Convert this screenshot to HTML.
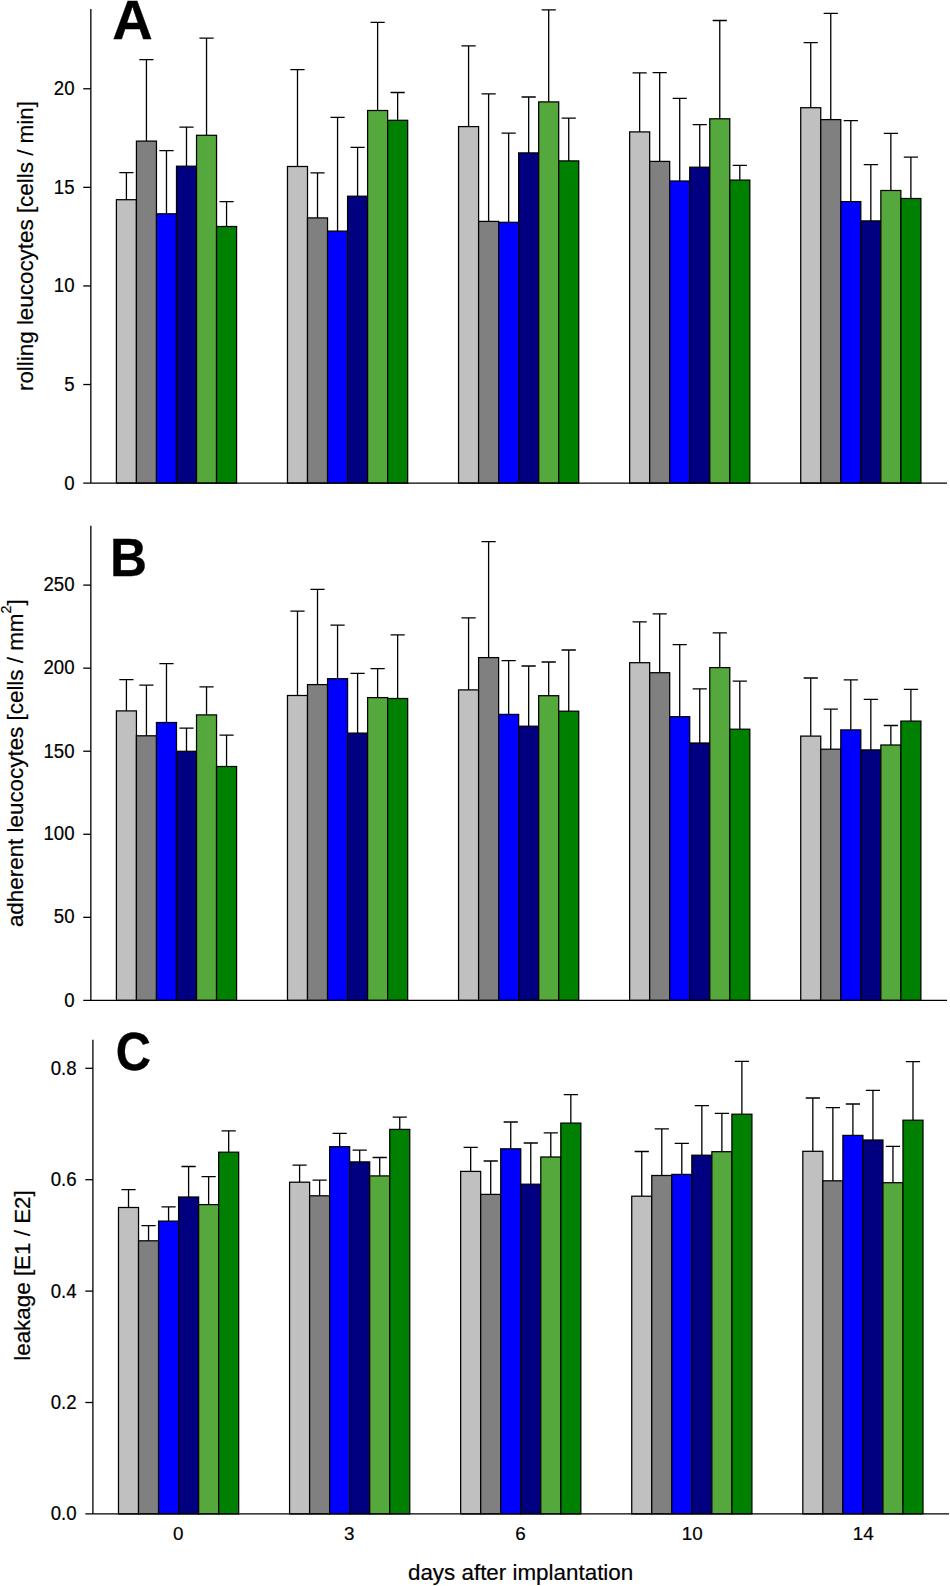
<!DOCTYPE html>
<html lang="en">
<head>
<meta charset="utf-8">
<title>Leucocyte rolling, adherence and leakage after implantation</title>
<style>
html,body{margin:0;padding:0;background:#fff;}
body{width:950px;height:1586px;overflow:hidden;}
svg{display:block;font-family:"Liberation Sans",sans-serif;}
.b{stroke:#000;stroke-width:1.25;}
.e{stroke:#000;stroke-width:1.3;fill:none;}
.a{stroke:#000;stroke-width:1.3;fill:none;}
.t{font-size:19.3px;fill:#000;stroke:#000;stroke-width:0.2;}
.x{font-size:19.1px;}
.y{font-size:22.4px;fill:#000;stroke:#000;stroke-width:0.2;}
.L{font-weight:bold;fill:#000;stroke:#000;stroke-width:0.3;stroke-linejoin:miter;}
</style>
</head>
<body>
<svg width="950" height="1586" viewBox="0 0 950 1586">
<rect width="950" height="1586" fill="#fff"/>
<g id="panel-a">
<path d="M126.42 199.70V172.70M119.32 172.70H133.52" class="e"/>
<path d="M146.44 141.10V59.70M139.34 59.70H153.54" class="e"/>
<path d="M166.48 213.80V150.60M159.38 150.60H173.58" class="e"/>
<path d="M186.50 166.20V127.10M179.41 127.10H193.60" class="e"/>
<path d="M206.54 135.30V38.20M199.44 38.20H213.64" class="e"/>
<path d="M226.56 226.50V201.60M219.47 201.60H233.66" class="e"/>
<path d="M297.50 166.50V69.60M290.39 69.60H304.60" class="e"/>
<path d="M317.52 217.90V172.90M310.42 172.90H324.62" class="e"/>
<path d="M337.56 231.10V117.40M330.45 117.40H344.66" class="e"/>
<path d="M357.59 196.20V147.40M350.49 147.40H364.69" class="e"/>
<path d="M377.62 110.50V22.30M370.51 22.30H384.72" class="e"/>
<path d="M397.64 120.30V92.50M390.54 92.50H404.75" class="e"/>
<path d="M468.58 126.60V45.90M461.48 45.90H475.68" class="e"/>
<path d="M488.61 221.40V93.80M481.50 93.80H495.71" class="e"/>
<path d="M508.64 222.30V133.10M501.54 133.10H515.74" class="e"/>
<path d="M528.67 152.90V97.00M521.57 97.00H535.77" class="e"/>
<path d="M548.70 101.90V9.90M541.60 9.90H555.80" class="e"/>
<path d="M568.73 160.90V118.10M561.62 118.10H575.83" class="e"/>
<path d="M639.65 131.90V72.80M632.55 72.80H646.75" class="e"/>
<path d="M659.68 161.40V72.60M652.58 72.60H666.78" class="e"/>
<path d="M679.72 181.00V98.40M672.62 98.40H686.82" class="e"/>
<path d="M699.75 167.20V124.70M692.64 124.70H706.85" class="e"/>
<path d="M719.77 118.80V20.50M712.67 20.50H726.88" class="e"/>
<path d="M739.80 180.10V165.30M732.70 165.30H746.90" class="e"/>
<path d="M810.74 107.70V42.70M803.63 42.70H817.84" class="e"/>
<path d="M830.76 119.60V13.30M823.66 13.30H837.87" class="e"/>
<path d="M850.79 201.60V120.60M843.69 120.60H857.89" class="e"/>
<path d="M870.83 220.90V164.70M863.73 164.70H877.93" class="e"/>
<path d="M890.86 190.50V133.30M883.75 133.30H897.96" class="e"/>
<path d="M910.88 198.50V157.20M903.78 157.20H917.99" class="e"/>
<rect x="116.40" y="199.70" width="20.03" height="283.40" fill="#c0c0c0" class="b"/>
<rect x="136.43" y="141.10" width="20.03" height="342.00" fill="#808080" class="b"/>
<rect x="156.46" y="213.80" width="20.03" height="269.30" fill="#0000ff" class="b"/>
<rect x="176.49" y="166.20" width="20.03" height="316.90" fill="#000080" class="b"/>
<rect x="196.52" y="135.30" width="20.03" height="347.80" fill="#55a83b" class="b"/>
<rect x="216.55" y="226.50" width="20.03" height="256.60" fill="#008000" class="b"/>
<rect x="287.48" y="166.50" width="20.03" height="316.60" fill="#c0c0c0" class="b"/>
<rect x="307.51" y="217.90" width="20.03" height="265.20" fill="#808080" class="b"/>
<rect x="327.54" y="231.10" width="20.03" height="252.00" fill="#0000ff" class="b"/>
<rect x="347.57" y="196.20" width="20.03" height="286.90" fill="#000080" class="b"/>
<rect x="367.60" y="110.50" width="20.03" height="372.60" fill="#55a83b" class="b"/>
<rect x="387.63" y="120.30" width="20.03" height="362.80" fill="#008000" class="b"/>
<rect x="458.56" y="126.60" width="20.03" height="356.50" fill="#c0c0c0" class="b"/>
<rect x="478.59" y="221.40" width="20.03" height="261.70" fill="#808080" class="b"/>
<rect x="498.62" y="222.30" width="20.03" height="260.80" fill="#0000ff" class="b"/>
<rect x="518.65" y="152.90" width="20.03" height="330.20" fill="#000080" class="b"/>
<rect x="538.68" y="101.90" width="20.03" height="381.20" fill="#55a83b" class="b"/>
<rect x="558.71" y="160.90" width="20.03" height="322.20" fill="#008000" class="b"/>
<rect x="629.64" y="131.90" width="20.03" height="351.20" fill="#c0c0c0" class="b"/>
<rect x="649.67" y="161.40" width="20.03" height="321.70" fill="#808080" class="b"/>
<rect x="669.70" y="181.00" width="20.03" height="302.10" fill="#0000ff" class="b"/>
<rect x="689.73" y="167.20" width="20.03" height="315.90" fill="#000080" class="b"/>
<rect x="709.76" y="118.80" width="20.03" height="364.30" fill="#55a83b" class="b"/>
<rect x="729.79" y="180.10" width="20.03" height="303.00" fill="#008000" class="b"/>
<rect x="800.72" y="107.70" width="20.03" height="375.40" fill="#c0c0c0" class="b"/>
<rect x="820.75" y="119.60" width="20.03" height="363.50" fill="#808080" class="b"/>
<rect x="840.78" y="201.60" width="20.03" height="281.50" fill="#0000ff" class="b"/>
<rect x="860.81" y="220.90" width="20.03" height="262.20" fill="#000080" class="b"/>
<rect x="880.84" y="190.50" width="20.03" height="292.60" fill="#55a83b" class="b"/>
<rect x="900.87" y="198.50" width="20.03" height="284.60" fill="#008000" class="b"/>
<path d="M90.85 9.10V483.10M83.25 483.10H947" class="a"/>
<text transform="translate(74.55 490.05) scale(0.965 1)" class="t" text-anchor="end">0</text>
<path d="M83.25 384.52H90.85" class="a"/>
<text transform="translate(74.55 390.62) scale(0.965 1)" class="t" text-anchor="end">5</text>
<path d="M83.25 285.94H90.85" class="a"/>
<text transform="translate(74.55 292.04) scale(0.965 1)" class="t" text-anchor="end">10</text>
<path d="M83.25 187.36H90.85" class="a"/>
<text transform="translate(74.55 193.96) scale(0.965 1)" class="t" text-anchor="end">15</text>
<path d="M83.25 88.78H90.85" class="a"/>
<text transform="translate(74.55 94.88) scale(0.965 1)" class="t" text-anchor="end">20</text>
<text transform="translate(112.3 39.2) scale(1.015 1)" font-size="55.2" class="L">A</text>
<text transform="translate(33.0 246.1) rotate(-90)" class="y" text-anchor="middle">rolling leucocytes [cells / min]</text>
</g>
<g id="panel-b">
<path d="M126.42 710.90V679.60M119.32 679.60H133.52" class="e"/>
<path d="M146.44 735.80V685.10M139.34 685.10H153.54" class="e"/>
<path d="M166.48 722.50V663.60M159.38 663.60H173.58" class="e"/>
<path d="M186.50 751.30V728.20M179.41 728.20H193.60" class="e"/>
<path d="M206.54 714.90V686.90M199.44 686.90H213.64" class="e"/>
<path d="M226.56 766.50V735.10M219.47 735.10H233.66" class="e"/>
<path d="M297.50 695.50V611.10M290.39 611.10H304.60" class="e"/>
<path d="M317.52 684.60V589.40M310.42 589.40H324.62" class="e"/>
<path d="M337.56 678.70V625.10M330.45 625.10H344.66" class="e"/>
<path d="M357.59 733.10V673.30M350.49 673.30H364.69" class="e"/>
<path d="M377.62 697.60V668.70M370.51 668.70H384.72" class="e"/>
<path d="M397.64 698.50V634.80M390.54 634.80H404.75" class="e"/>
<path d="M468.58 689.90V617.80M461.48 617.80H475.68" class="e"/>
<path d="M488.61 657.60V541.60M481.50 541.60H495.71" class="e"/>
<path d="M508.64 714.40V660.70M501.54 660.70H515.74" class="e"/>
<path d="M528.67 726.20V666.00M521.57 666.00H535.77" class="e"/>
<path d="M548.70 695.70V662.00M541.60 662.00H555.80" class="e"/>
<path d="M568.73 711.20V650.00M561.62 650.00H575.83" class="e"/>
<path d="M639.65 662.70V621.90M632.55 621.90H646.75" class="e"/>
<path d="M659.68 672.70V613.80M652.58 613.80H666.78" class="e"/>
<path d="M679.72 716.70V644.70M672.62 644.70H686.82" class="e"/>
<path d="M699.75 743.00V688.80M692.64 688.80H706.85" class="e"/>
<path d="M719.77 667.60V632.80M712.67 632.80H726.88" class="e"/>
<path d="M739.80 729.20V681.20M732.70 681.20H746.90" class="e"/>
<path d="M810.74 736.10V678.00M803.63 678.00H817.84" class="e"/>
<path d="M830.76 749.20V709.10M823.66 709.10H837.87" class="e"/>
<path d="M850.79 729.90V679.80M843.69 679.80H857.89" class="e"/>
<path d="M870.83 749.90V699.40M863.73 699.40H877.93" class="e"/>
<path d="M890.86 745.00V725.50M883.75 725.50H897.96" class="e"/>
<path d="M910.88 721.10V689.30M903.78 689.30H917.99" class="e"/>
<rect x="116.40" y="710.90" width="20.03" height="289.50" fill="#c0c0c0" class="b"/>
<rect x="136.43" y="735.80" width="20.03" height="264.60" fill="#808080" class="b"/>
<rect x="156.46" y="722.50" width="20.03" height="277.90" fill="#0000ff" class="b"/>
<rect x="176.49" y="751.30" width="20.03" height="249.10" fill="#000080" class="b"/>
<rect x="196.52" y="714.90" width="20.03" height="285.50" fill="#55a83b" class="b"/>
<rect x="216.55" y="766.50" width="20.03" height="233.90" fill="#008000" class="b"/>
<rect x="287.48" y="695.50" width="20.03" height="304.90" fill="#c0c0c0" class="b"/>
<rect x="307.51" y="684.60" width="20.03" height="315.80" fill="#808080" class="b"/>
<rect x="327.54" y="678.70" width="20.03" height="321.70" fill="#0000ff" class="b"/>
<rect x="347.57" y="733.10" width="20.03" height="267.30" fill="#000080" class="b"/>
<rect x="367.60" y="697.60" width="20.03" height="302.80" fill="#55a83b" class="b"/>
<rect x="387.63" y="698.50" width="20.03" height="301.90" fill="#008000" class="b"/>
<rect x="458.56" y="689.90" width="20.03" height="310.50" fill="#c0c0c0" class="b"/>
<rect x="478.59" y="657.60" width="20.03" height="342.80" fill="#808080" class="b"/>
<rect x="498.62" y="714.40" width="20.03" height="286.00" fill="#0000ff" class="b"/>
<rect x="518.65" y="726.20" width="20.03" height="274.20" fill="#000080" class="b"/>
<rect x="538.68" y="695.70" width="20.03" height="304.70" fill="#55a83b" class="b"/>
<rect x="558.71" y="711.20" width="20.03" height="289.20" fill="#008000" class="b"/>
<rect x="629.64" y="662.70" width="20.03" height="337.70" fill="#c0c0c0" class="b"/>
<rect x="649.67" y="672.70" width="20.03" height="327.70" fill="#808080" class="b"/>
<rect x="669.70" y="716.70" width="20.03" height="283.70" fill="#0000ff" class="b"/>
<rect x="689.73" y="743.00" width="20.03" height="257.40" fill="#000080" class="b"/>
<rect x="709.76" y="667.60" width="20.03" height="332.80" fill="#55a83b" class="b"/>
<rect x="729.79" y="729.20" width="20.03" height="271.20" fill="#008000" class="b"/>
<rect x="800.72" y="736.10" width="20.03" height="264.30" fill="#c0c0c0" class="b"/>
<rect x="820.75" y="749.20" width="20.03" height="251.20" fill="#808080" class="b"/>
<rect x="840.78" y="729.90" width="20.03" height="270.50" fill="#0000ff" class="b"/>
<rect x="860.81" y="749.90" width="20.03" height="250.50" fill="#000080" class="b"/>
<rect x="880.84" y="745.00" width="20.03" height="255.40" fill="#55a83b" class="b"/>
<rect x="900.87" y="721.10" width="20.03" height="279.30" fill="#008000" class="b"/>
<path d="M90.85 525.80V1000.40M83.25 1000.40H947" class="a"/>
<text transform="translate(74.55 1007.20) scale(0.965 1)" class="t" text-anchor="end">0</text>
<path d="M83.25 917.34H90.85" class="a"/>
<text transform="translate(74.55 923.49) scale(0.965 1)" class="t" text-anchor="end">50</text>
<path d="M83.25 834.28H90.85" class="a"/>
<text transform="translate(74.55 840.03) scale(0.965 1)" class="t" text-anchor="end">100</text>
<path d="M83.25 751.22H90.85" class="a"/>
<text transform="translate(74.55 757.67) scale(0.965 1)" class="t" text-anchor="end">150</text>
<path d="M83.25 668.16H90.85" class="a"/>
<text transform="translate(74.55 674.26) scale(0.965 1)" class="t" text-anchor="end">200</text>
<path d="M83.25 585.10H90.85" class="a"/>
<text transform="translate(74.55 590.90) scale(0.965 1)" class="t" text-anchor="end">250</text>
<text transform="translate(110.0 575.6) scale(0.945 1)" font-size="54.2" class="L">B</text>
<text transform="translate(22.6 763.2) rotate(-90)" class="y" text-anchor="middle">adherent leucocytes [cells / mm<tspan dy="-11.7" font-size="14.3">2</tspan><tspan dy="11.7">]</tspan></text>
</g>
<g id="panel-c">
<path d="M128.51 1207.50V1189.60M121.41 1189.60H135.61" class="e"/>
<path d="M148.55 1240.80V1225.60M141.45 1225.60H155.65" class="e"/>
<path d="M168.57 1221.10V1206.90M161.47 1206.90H175.67" class="e"/>
<path d="M188.61 1197.00V1166.50M181.51 1166.50H195.71" class="e"/>
<path d="M208.63 1204.60V1176.70M201.53 1176.70H215.73" class="e"/>
<path d="M228.67 1152.20V1130.80M221.57 1130.80H235.77" class="e"/>
<path d="M299.60 1182.20V1165.10M292.50 1165.10H306.70" class="e"/>
<path d="M319.62 1195.80V1180.10M312.52 1180.10H326.73" class="e"/>
<path d="M339.66 1146.70V1133.30M332.56 1133.30H346.76" class="e"/>
<path d="M359.69 1161.90V1150.10M352.59 1150.10H366.79" class="e"/>
<path d="M379.72 1175.90V1157.50M372.62 1157.50H386.82" class="e"/>
<path d="M399.75 1129.40V1117.20M392.64 1117.20H406.85" class="e"/>
<path d="M470.68 1171.40V1147.40M463.57 1147.40H477.78" class="e"/>
<path d="M490.71 1194.40V1161.00M483.61 1161.00H497.81" class="e"/>
<path d="M510.74 1148.80V1122.00M503.63 1122.00H517.84" class="e"/>
<path d="M530.76 1184.20V1143.00M523.66 1143.00H537.87" class="e"/>
<path d="M550.79 1157.00V1132.80M543.69 1132.80H557.89" class="e"/>
<path d="M570.83 1123.10V1094.60M563.73 1094.60H577.93" class="e"/>
<path d="M641.75 1196.20V1151.50M634.65 1151.50H648.86" class="e"/>
<path d="M661.78 1175.50V1128.90M654.68 1128.90H668.88" class="e"/>
<path d="M681.81 1174.40V1143.40M674.71 1143.40H688.91" class="e"/>
<path d="M701.85 1155.20V1105.60M694.75 1105.60H708.95" class="e"/>
<path d="M721.88 1151.70V1113.40M714.77 1113.40H728.98" class="e"/>
<path d="M741.90 1114.20V1061.40M734.80 1061.40H749.00" class="e"/>
<path d="M812.84 1151.30V1098.00M805.74 1098.00H819.94" class="e"/>
<path d="M832.87 1180.80V1107.70M825.76 1107.70H839.97" class="e"/>
<path d="M852.90 1135.40V1104.00M845.80 1104.00H860.00" class="e"/>
<path d="M872.93 1140.00V1090.40M865.83 1090.40H880.03" class="e"/>
<path d="M892.96 1182.70V1146.40M885.86 1146.40H900.06" class="e"/>
<path d="M912.99 1120.20V1061.60M905.88 1061.60H920.09" class="e"/>
<rect x="118.50" y="1207.50" width="20.03" height="306.40" fill="#c0c0c0" class="b"/>
<rect x="138.53" y="1240.80" width="20.03" height="273.10" fill="#808080" class="b"/>
<rect x="158.56" y="1221.10" width="20.03" height="292.80" fill="#0000ff" class="b"/>
<rect x="178.59" y="1197.00" width="20.03" height="316.90" fill="#000080" class="b"/>
<rect x="198.62" y="1204.60" width="20.03" height="309.30" fill="#55a83b" class="b"/>
<rect x="218.65" y="1152.20" width="20.03" height="361.70" fill="#008000" class="b"/>
<rect x="289.58" y="1182.20" width="20.03" height="331.70" fill="#c0c0c0" class="b"/>
<rect x="309.61" y="1195.80" width="20.03" height="318.10" fill="#808080" class="b"/>
<rect x="329.64" y="1146.70" width="20.03" height="367.20" fill="#0000ff" class="b"/>
<rect x="349.67" y="1161.90" width="20.03" height="352.00" fill="#000080" class="b"/>
<rect x="369.70" y="1175.90" width="20.03" height="338.00" fill="#55a83b" class="b"/>
<rect x="389.73" y="1129.40" width="20.03" height="384.50" fill="#008000" class="b"/>
<rect x="460.66" y="1171.40" width="20.03" height="342.50" fill="#c0c0c0" class="b"/>
<rect x="480.69" y="1194.40" width="20.03" height="319.50" fill="#808080" class="b"/>
<rect x="500.72" y="1148.80" width="20.03" height="365.10" fill="#0000ff" class="b"/>
<rect x="520.75" y="1184.20" width="20.03" height="329.70" fill="#000080" class="b"/>
<rect x="540.78" y="1157.00" width="20.03" height="356.90" fill="#55a83b" class="b"/>
<rect x="560.81" y="1123.10" width="20.03" height="390.80" fill="#008000" class="b"/>
<rect x="631.74" y="1196.20" width="20.03" height="317.70" fill="#c0c0c0" class="b"/>
<rect x="651.77" y="1175.50" width="20.03" height="338.40" fill="#808080" class="b"/>
<rect x="671.80" y="1174.40" width="20.03" height="339.50" fill="#0000ff" class="b"/>
<rect x="691.83" y="1155.20" width="20.03" height="358.70" fill="#000080" class="b"/>
<rect x="711.86" y="1151.70" width="20.03" height="362.20" fill="#55a83b" class="b"/>
<rect x="731.89" y="1114.20" width="20.03" height="399.70" fill="#008000" class="b"/>
<rect x="802.82" y="1151.30" width="20.03" height="362.60" fill="#c0c0c0" class="b"/>
<rect x="822.85" y="1180.80" width="20.03" height="333.10" fill="#808080" class="b"/>
<rect x="842.88" y="1135.40" width="20.03" height="378.50" fill="#0000ff" class="b"/>
<rect x="862.91" y="1140.00" width="20.03" height="373.90" fill="#000080" class="b"/>
<rect x="882.94" y="1182.70" width="20.03" height="331.20" fill="#55a83b" class="b"/>
<rect x="902.97" y="1120.20" width="20.03" height="393.70" fill="#008000" class="b"/>
<path d="M92.90 1039.80V1513.90M85.30 1513.90H949" class="a"/>
<text transform="translate(76.60 1520.30) scale(0.965 1)" class="t" text-anchor="end">0.0</text>
<path d="M85.30 1402.50H92.90" class="a"/>
<text transform="translate(76.60 1408.90) scale(0.965 1)" class="t" text-anchor="end">0.2</text>
<path d="M85.30 1291.10H92.90" class="a"/>
<text transform="translate(76.60 1297.50) scale(0.965 1)" class="t" text-anchor="end">0.4</text>
<path d="M85.30 1179.70H92.90" class="a"/>
<text transform="translate(76.60 1186.10) scale(0.965 1)" class="t" text-anchor="end">0.6</text>
<path d="M85.30 1068.30H92.90" class="a"/>
<text transform="translate(76.60 1074.70) scale(0.965 1)" class="t" text-anchor="end">0.8</text>
<text transform="translate(115.7 1069.5) scale(0.9 1)" font-size="54.2" class="L">C</text>
<text transform="translate(30 1275.5) rotate(-90)" class="y" text-anchor="middle">leakage [E1 / E2]</text>
</g>
<g id="x-axis-labels">
<text transform="translate(178.20 1539.8) scale(0.985 1)" class="t x" text-anchor="middle">0</text>
<text transform="translate(349.28 1539.8) scale(0.985 1)" class="t x" text-anchor="middle">3</text>
<text transform="translate(520.36 1539.8) scale(0.985 1)" class="t x" text-anchor="middle">6</text>
<text transform="translate(692.14 1539.8) scale(0.985 1)" class="t x" text-anchor="middle">10</text>
<text transform="translate(863.22 1539.8) scale(0.985 1)" class="t x" text-anchor="middle">14</text>
<text x="520.6" y="1580" class="y" text-anchor="middle">days after implantation</text>
</g>
</svg>
</body>
</html>
